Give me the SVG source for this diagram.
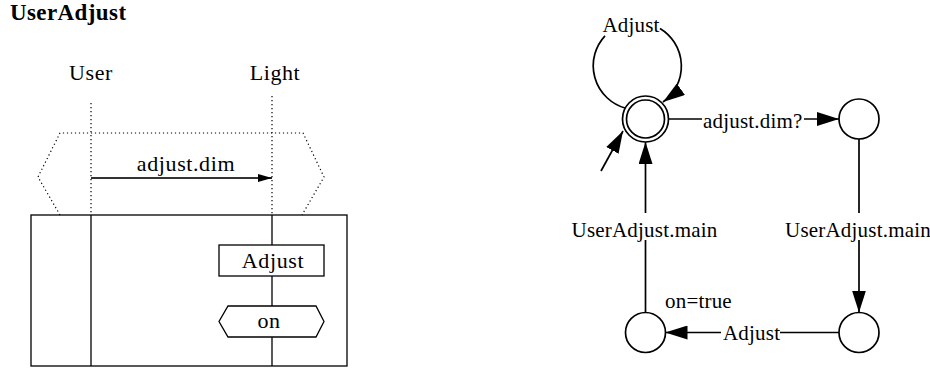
<svg xmlns="http://www.w3.org/2000/svg" width="930" height="370" viewBox="0 0 930 370">
  <style>
    .title { font-family: "Liberation Serif", "Times New Roman", serif; font-size: 23px; font-weight: bold; letter-spacing: 0.4px; fill: #000; }
    .seq { font-family: "Liberation Serif", "Times New Roman", serif; font-size: 22px; letter-spacing: 0.6px; fill: #000; }
    .lbl { font-family: "Liberation Serif", "Times New Roman", serif; font-size: 21px; letter-spacing: 0.2px; fill: #000; }
    .mid { text-anchor: middle; }
    .dot { fill: none; stroke: #000; stroke-width: 1.2; stroke-dasharray: 1.2 2.8; }
    .solid { fill: none; stroke: #000; stroke-width: 1.3; }
    .box { fill: #fff; stroke: #000; stroke-width: 1.3; }
    .msg { fill: none; stroke: #333; stroke-width: 1.8; }
    .state { fill: #fff; stroke: #000; stroke-width: 1.7; }
    .edge { fill: none; stroke: #000; stroke-width: 1.7; }
  </style>
  <defs>
    <marker id="head" markerUnits="userSpaceOnUse" viewBox="0 0 22 14" markerWidth="22" markerHeight="14" refX="22" refY="7" orient="auto">
      <path d="M0,0 L22,7 L0,14 z" fill="#000"/>
    </marker>
    <marker id="headSmall" markerUnits="userSpaceOnUse" viewBox="0 0 14 8" markerWidth="14" markerHeight="8" refX="14" refY="4" orient="auto">
      <path d="M0,0 L14,4 L0,8 z" fill="#000"/>
    </marker>
  </defs>

  <!-- Sequence chart: UserAdjust -->
  <text class="title" x="10" y="20">UserAdjust</text>

  <g id="lifeline-user">
    <text class="seq mid" x="91" y="80">User</text>
    <line class="dot" x1="91" y1="103" x2="91" y2="215"/>
    <line class="solid" x1="91" y1="215" x2="91" y2="366"/>
  </g>

  <g id="lifeline-light">
    <text class="seq mid" x="275" y="80">Light</text>
    <line class="dot" x1="272" y1="96" x2="272" y2="215"/>
    <line class="solid" x1="272" y1="215" x2="272" y2="366"/>
  </g>

  <!-- pre-chart (dotted hexagon) -->
  <g id="prechart">
    <path class="dot" d="M60,215 L38,177 L60,133 L303,133 L324,177 L302,215"/>
  </g>

  <!-- main chart frame -->
  <g id="mainchart">
    <rect class="solid" x="31" y="215" width="316" height="151"/>
  </g>

  <g id="msg-adjust-dim">
    <line class="msg" x1="91" y1="178" x2="272" y2="178" marker-end="url(#headSmall)"/>
    <text class="seq mid" x="186" y="171">adjust.dim</text>
  </g>

  <g id="action-adjust">
    <rect class="box" x="219" y="245" width="105" height="31"/>
    <text class="seq mid" x="273" y="268">Adjust</text>
  </g>

  <g id="condition-on">
    <path class="box" d="M228,306 L316,306 L324,321.5 L316,337 L228,337 L219,321.5 z"/>
    <text class="seq mid" x="269" y="328">on</text>
  </g>

  <!-- Statechart -->
  <g id="s0">
    <circle class="state" cx="645.5" cy="119" r="23"/>
    <circle class="state" cx="645.5" cy="119" r="19"/>
  </g>
  <g id="s1">
    <circle class="state" cx="859" cy="119" r="20"/>
  </g>
  <g id="s2">
    <circle class="state" cx="859" cy="332.5" r="20"/>
  </g>
  <g id="s3">
    <circle class="state" cx="645.5" cy="332.5" r="20"/>
    <text class="lbl" x="665" y="308">on=true</text>
  </g>

  <g id="connectors">
    <!-- initial -->
    <line class="edge" x1="601" y1="171" x2="623" y2="131" marker-end="url(#head)"/>
    <!-- self loop Adjust -->
    <path class="edge" d="M625,108 A44,44 0 0 1 605,35.8"/>
    <path class="edge" d="M660,28.5 A44,44 0 0 1 663,102" marker-end="url(#head)"/>
    <text class="lbl mid" x="631" y="31.7">Adjust</text>
    <!-- s0 -> s1 -->
    <line class="edge" x1="668.5" y1="119" x2="702" y2="119"/>
    <text class="lbl" x="703" y="128">adjust.dim?</text>
    <line class="edge" x1="804" y1="119" x2="839" y2="119" marker-end="url(#head)"/>
    <!-- s1 -> s2 -->
    <line class="edge" x1="859" y1="139" x2="859" y2="213"/>
    <text class="lbl mid" x="858" y="236.7">UserAdjust.main</text>
    <line class="edge" x1="859" y1="240" x2="859" y2="312.5" marker-end="url(#head)"/>
    <!-- s2 -> s3 -->
    <line class="edge" x1="839" y1="332.5" x2="780" y2="332.5"/>
    <text class="lbl" x="723" y="340">Adjust</text>
    <line class="edge" x1="721" y1="332.5" x2="665.5" y2="332.5" marker-end="url(#head)"/>
    <!-- s3 -> s0 -->
    <line class="edge" x1="645.5" y1="312.5" x2="645.5" y2="240"/>
    <text class="lbl mid" x="644.5" y="236.7">UserAdjust.main</text>
    <line class="edge" x1="645.5" y1="213" x2="645.5" y2="142" marker-end="url(#head)"/>
  </g>
</svg>
